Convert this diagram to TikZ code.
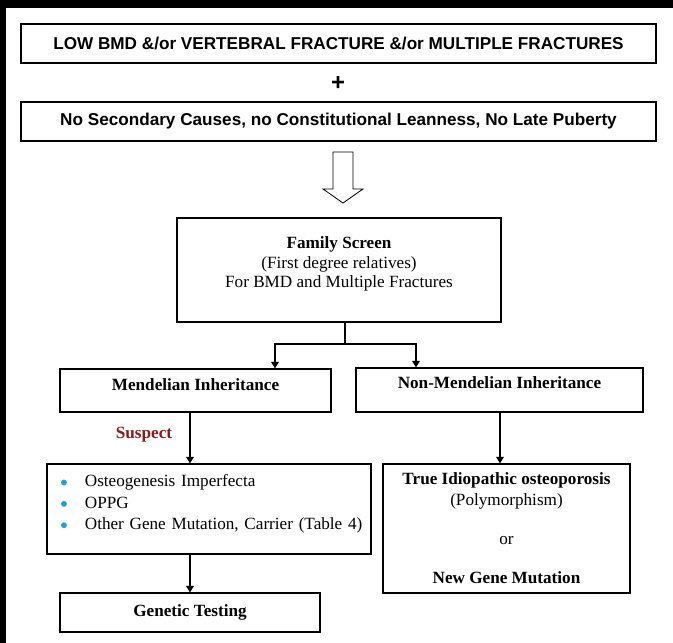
\documentclass[tikz,border=0pt]{standalone}
\usepackage{fontspec}
\setmainfont{Liberation Serif}
\newfontfamily\arialfont{Liberation Sans}
\usepackage{tikz}
\usetikzlibrary{arrows.meta, calc}
\definecolor{suspect}{HTML}{8B1A1A}
\definecolor{bullet}{HTML}{1BA1DC}
\newcommand{\lowstrut}[1]{\rule[-#1]{0pt}{#1}}
\newcommand{\blt}{\tikz[baseline=-3.2pt]\fill[bullet] (0,0) circle (2.1pt);}

\begin{document}
\begin{tikzpicture}[
  box/.style={draw, line width=0.9pt, inner sep=0pt, align=center, font=\fontsize{12.2}{14.5}\selectfont},
  topbox/.style={box, minimum width=15.875cm, minimum height=0.975cm, font=\arialfont\bfseries\fontsize{12.2}{14}\selectfont},
  arr/.style={line width=0.9pt, -{Triangle[length=1.6mm,width=1.9mm]}}
]
\useasboundingbox (0,0) rectangle (16.825,-16.075);
% frame edges
\fill[black] (0,0) rectangle (16.825,-0.2);
\fill[black] (0,0) rectangle (0.15,-16.075);
% criteria
\node[topbox] (lowbmd) at (8.4625,-1.0875) {LOW BMD \&/or VERTEBRAL FRACTURE \&/or MULTIPLE FRACTURES};
\node[font=\arialfont\bfseries\fontsize{17}{17}\selectfont] (plus) at (8.45,-2.075) {+};
\node[topbox] (nosec) at (8.4625,-3.0375) {No Secondary Causes, no Constitutional Leanness, No Late Puberty};
%
\draw[line width=0.6pt] (8.325,-3.8) -- (8.325,-4.725) -- (8.075,-4.725) -- (8.575,-5.075)
  -- (9.075,-4.725) -- (8.825,-4.725) -- (8.825,-3.8) -- cycle;
% family screen
\node[box, minimum width=8.1cm, minimum height=2.6cm, font=\fontsize{12.2}{14}\selectfont] (famscreen) at (8.475,-6.75)
  {\textbf{Family Screen}\\(First degree relatives)\\For BMD and Multiple Fractures\lowstrut{11pt}};
\coordinate (split) at (8.625,-8.6);
%
\node[box, minimum width=6.775cm, minimum height=1.075cm] (mendel) at (4.8875,-9.7625) {\textbf{Mendelian Inheritance}\lowstrut{8pt}};
\node[box, minimum width=7.175cm, minimum height=1.1cm] (nonmend) at (12.4875,-9.75) {\textbf{Non-Mendelian Inheritance}\lowstrut{10pt}};
%
\node[font=\fontsize{12.2}{14}\selectfont\bfseries, text=suspect] (susp) at (3.6,-10.875) {Suspect};
\node[box, minimum width=8.1cm, minimum height=2.25cm, text width=7.4cm, align=left] (suspbox) at (5.225,-12.725)
  {\fontsize{12.2}{15.2}\selectfont
   \begin{tabular}{@{}l@{\hspace{0.45cm}}l@{}}
   \blt & Osteogenesis Imperfecta\\
   \blt & OPPG\\
   \blt & Other Gene Mutation, Carrier (Table 4)\\[7pt]
   \end{tabular}};
\node[box, minimum width=6.5cm, minimum height=0.975cm] (gentest) at (4.75,-15.3125) {\textbf{Genetic Testing}};
%
\node[box, minimum width=6.175cm, minimum height=3.225cm] (idio) at (12.6625,-13.2125)
  {\textbf{True Idiopathic osteoporosis}\\(Polymorphism)\\[13.5pt]or\\[13.5pt]\textbf{New Gene Mutation}};
% connectors
\draw[line width=0.9pt] (famscreen.south -| split) -- (split);
\draw[arr] (split) -| ([xshift=1.9875cm]mendel.north);
\draw[arr] (split) -| ([xshift=-2.0875cm]nonmend.north);
\draw[arr] ([xshift=-0.1375cm]mendel.south) -- ([xshift=-0.1375cm]mendel.south |- suspbox.north);
\draw[arr] (gentest.north |- suspbox.south) -- (gentest.north);
\draw[arr] ([xshift=0.0125cm]nonmend.south) -- ([xshift=0.0125cm]nonmend.south |- idio.north);
\end{tikzpicture}
\end{document}
